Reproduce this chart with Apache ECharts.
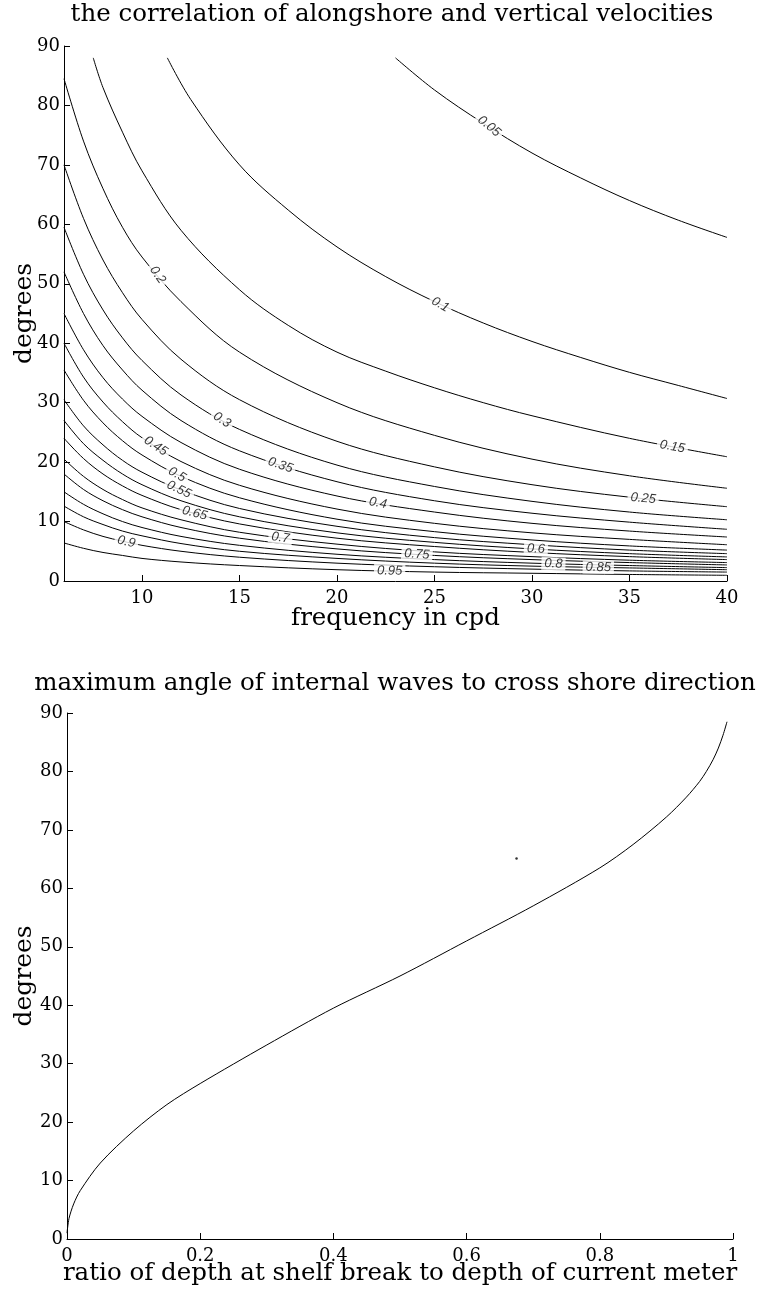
<!DOCTYPE html>
<html>
<head>
<meta charset="utf-8">
<script src="https://cdn.jsdelivr.net/npm/echarts@6/dist/echarts.min.js"></script>
<style>
html,body{margin:0;padding:0;background:#fff;}
#chart{width:765px;height:1290px;}
</style>
</head>
<body>
<div id="chart"></div>
<script>
// ---------- Top chart: correlation contours (frequency in cpd vs degrees) ----------
const levelLabels = ['0.05','0.1','0.15','0.2','0.25','0.3','0.35','0.4','0.45','0.5','0.55','0.6','0.65','0.7','0.75','0.8','0.85','0.9','0.95'];

const c005 = [[23,88],[25,82.6],[27.5,77],[30,72],[32.5,67.8],[35,64],[37.5,60.7],[40,57.8]];
const c010 = [[11.3,88],[12.5,81],[15,70],[17.5,62.4],[20,56.2],[22.5,51.2],[25,47],[27.5,43.4],[30,40.3],[32.5,37.6],[35,35.1],[37.5,32.9],[40,30.7]];
const c015 = [[7.5,88],[8,83],[9,75.5],[10,69],[12,59],[15,49],[17.5,43],[20,38.5],[22.5,35.3],[25,32.5],[27.5,30],[30,27.8],[35,24],[40,20.9]];
const c020 = [[6,84.5],[7,74],[8,66],[9,59.5],[10,54.5],[12,47],[15,38.5],[20,30],[25,24.5],[30,20.5],[35,17.7],[40,15.6]];
const c025 = [[6,70],[7,61],[8,54],[9,48.5],[10,44],[12,37.3],[15,30.5],[20,23.5],[25,19.2],[30,16.2],[35,14.1],[40,12.5]];
const c030 = [[6,59.5],[7,51.6],[8,45.6],[9,40.9],[10,37.1],[12,31.3],[15,25.5],[20,19.5],[25,15.9],[30,13.4],[35,11.6],[40,10.3]];
const c035 = [[6,52],[7,45],[8,39.6],[9,35.5],[10,32.1],[12,27],[15,21.9],[20,16.7],[25,13.5],[30,11.4],[35,9.9],[40,8.7]];
const c040 = [[6,45],[7,38.9],[8,34.2],[9,30.6],[10,27.7],[12,23.3],[15,18.8],[20,14.3],[25,11.6],[30,9.7],[35,8.4],[40,7.4]];
const c045 = [[6,40],[7,34.3],[8,30.1],[9,26.8],[10,24.1],[12,20.1],[15,16.1],[20,12.1],[25,9.7],[30,8.1],[35,7.0],[40,6.1]];
const c050 = [[6,35.5],[7,30.4],[8,26.6],[9,23.6],[10,21.2],[12,17.6],[15,14],[20,10.4],[25,8.3],[30,6.9],[35,5.9],[40,5.2]];
const c055 = [[6,30.5],[7,26.1],[8,22.9],[9,20.3],[10,18.3],[12,15.3],[15,12.2],[20,9.2],[25,7.3],[30,6.1],[35,5.2],[40,4.6]];
const c060 = [[6,27],[7,23.1],[8,20.3],[9,18],[10,16.2],[12,13.5],[15,10.8],[20,8.1],[25,6.5],[30,5.4],[35,4.6],[40,4.05]];
const c065 = [[6,24],[7,20.6],[8,18],[9,16],[10,14.4],[12,12],[15,9.6],[20,7.2],[25,5.8],[30,4.8],[35,4.1],[40,3.6]];
const c070 = [[6,20.5],[7,17.6],[8,15.4],[9,13.7],[10,12.3],[12,10.3],[15,8.2],[20,6.2],[25,4.9],[30,4.1],[35,3.5],[40,3.1]];
const c075 = [[6,18],[7,15.4],[8,13.5],[9,12],[10,10.8],[12,9],[15,7.2],[20,5.4],[25,4.3],[30,3.6],[35,3.1],[40,2.7]];
const c080 = [[6,15],[7,12.9],[8,11.3],[9,10],[10,9],[12,7.5],[15,6],[20,4.5],[25,3.6],[30,3],[35,2.6],[40,2.25]];
const c085 = [[6,12.6],[7,10.8],[8,9.5],[9,8.4],[10,7.6],[12,6.3],[15,5],[20,3.8],[25,3],[30,2.5],[35,2.2],[40,1.9]];
const c090 = [[6,10],[7,8.6],[8,7.5],[9,6.7],[10,6],[12,5],[15,4],[20,3],[25,2.4],[30,2],[35,1.7],[40,1.5]];
const c095 = [[6,6.4],[7,5.5],[8,4.8],[9,4.3],[10,3.8],[12,3.2],[15,2.6],[20,1.9],[25,1.5],[30,1.3],[35,1.1],[40,0.96]];

// contour label anchor points (frequency, degrees)
const labelPos = [[27.8,76.5],[25.3,46.5],[37.2,22.6],[10.8,51.5],[35.7,13.9],[14.1,27.1],[17.1,19.5],[22.1,13.1],[10.7,22.7],[11.8,17.9],[11.9,15.4],[30.2,5.4],[12.7,11.4],[17.1,7.3],[24.1,4.5],[31.1,2.9],[33.4,2.3],[9.2,6.6],[22.7,1.7]];
const labelRot = [-40,-30,-10,-55,-6,-33,-19,-10,-34,-30,-26,-3,-15,-8,-4,-2,-1,-13,-1];

const freqTicks = [10,15,20,25,30,35,40];

// ---------- Bottom chart ----------
const ratioX   = [0, 0.003, 0.01, 0.02, 0.05, 0.1, 0.15, 0.2, 0.3, 0.4, 0.5, 0.6, 0.7, 0.8, 0.85, 0.9, 0.93, 0.95, 0.96, 0.97, 0.978, 0.985, 0.991];
const maxAngle = [1, 3.5, 6, 8.3, 13, 18.5, 23, 26.6, 33.2, 39.5, 45, 51, 57, 63.5, 67.5, 72.2, 75.6, 78.3, 80, 82, 84, 86.2, 88.5];
// isolated speck in the scan
const speck = [[0.675, 65.1]];

const contours = [c005,c010,c015,c020,c025,c030,c035,c040,c045,c050,c055,c060,c065,c070,c075,c080,c085,c090,c095];

const serif = 'DejaVu Serif';
const chart = echarts.init(document.getElementById('chart'), null, {renderer:'canvas'});

function axisCommon(){
  return {
    axisLine:{show:true, onZero:false, lineStyle:{color:'#000', width:1}},
    axisTick:{show:true, inside:true, length:6, lineStyle:{color:'#000', width:1}},
    splitLine:{show:false},
    nameMoveOverlap:false,
    axisLabel:{color:'#000', fontFamily:serif, fontSize:18}
  };
}

const series = [];
contours.forEach((c) => {
  series.push({
    type:'line', xAxisIndex:0, yAxisIndex:0, data:c, smooth:0.35,
    showSymbol:false, symbol:'none', silent:true,
    lineStyle:{color:'#000', width:1}, z:2
  });
});
series.push({
  type:'scatter', xAxisIndex:0, yAxisIndex:0, symbolSize:0, silent:true, z:5,
  data: labelPos.map((p, i) => ({
    value:[p[0], p[1]],
    label:{show:true, position:'inside', rotate:labelRot[i], formatter:levelLabels[i],
      fontFamily:'Liberation Sans', fontStyle:'italic', fontSize:13, color:'#000',
      backgroundColor:'#fff', padding:[0,3]}
  }))
});
series.push({
  type:'line', xAxisIndex:1, yAxisIndex:1,
  data: ratioX.map((x, i) => [x, maxAngle[i]]),
  smooth:0.3, showSymbol:false, symbol:'none', silent:true,
  lineStyle:{color:'#000', width:1}
});
series.push({
  type:'scatter', xAxisIndex:1, yAxisIndex:1, data:speck, symbolSize:2.5, silent:true,
  itemStyle:{color:'#000'}
});

const nameFont = {fontFamily:serif, fontSize:24.5, color:'#000'};

const option = {
  backgroundColor:'#fff',
  animation:false,
  grid:[
    {left:64, top:46, width:663, height:535},
    {left:67, top:713, width:666, height:526}
  ],
  xAxis:[
    Object.assign(axisCommon(), {
      type:'value', gridIndex:0, min:6, max:40,
      name:'frequency in cpd', nameLocation:'middle', nameGap:25,
      nameTextStyle:nameFont,
      axisTick:{show:true, inside:true, length:6, customValues:freqTicks, lineStyle:{color:'#000'}},
      axisLabel:{color:'#000', fontFamily:serif, fontSize:18, margin:8, customValues:freqTicks}
    }),
    Object.assign(axisCommon(), {
      type:'value', gridIndex:1, min:0, max:1, interval:0.2,
      name:'ratio of depth at shelf break to depth of current meter', nameLocation:'middle', nameGap:22,
      nameTextStyle:nameFont,
      axisLabel:{color:'#000', fontFamily:serif, fontSize:18, margin:8}
    })
  ],
  yAxis:[
    Object.assign(axisCommon(), {
      type:'value', gridIndex:0, min:0, max:90, interval:10,
      name:'degrees', nameLocation:'middle', nameGap:27, nameRotate:90,
      nameTextStyle:{fontFamily:serif, fontSize:25, color:'#000'},
      axisLabel:{color:'#000', fontFamily:serif, fontSize:18, margin:4}
    }),
    Object.assign(axisCommon(), {
      type:'value', gridIndex:1, min:0, max:90, interval:10,
      name:'degrees', nameLocation:'middle', nameGap:30, nameRotate:90,
      nameTextStyle:{fontFamily:serif, fontSize:25, color:'#000'},
      axisLabel:{color:'#000', fontFamily:serif, fontSize:18, margin:4}
    })
  ],
  graphic:[
    {type:'text', x:392, y:15, style:{text:'the correlation of alongshore and vertical velocities',
      font:'24.5px "DejaVu Serif"', fill:'#000', textAlign:'center', textVerticalAlign:'middle'}},
    {type:'text', x:395, y:684, style:{text:'maximum angle of internal waves to cross shore direction',
      font:'24.5px "DejaVu Serif"', fill:'#000', textAlign:'center', textVerticalAlign:'middle'}}
  ],
  series: series
};
chart.setOption(option);
</script>
</body>
</html>
